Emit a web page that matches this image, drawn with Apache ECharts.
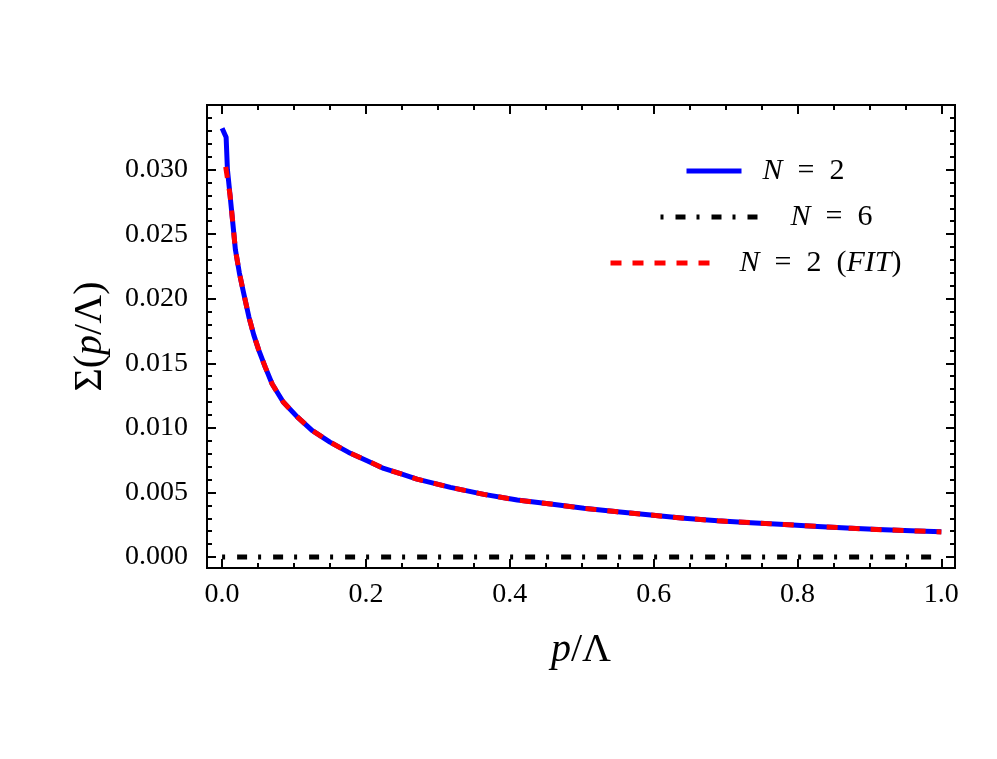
<!DOCTYPE html>
<html>
<head>
<meta charset="utf-8">
<script src="https://cdn.jsdelivr.net/npm/echarts@6/dist/echarts.min.js"></script>
<style>
html, body { margin: 0; padding: 0; background: #fff; }
#chart { width: 997px; height: 759px; }
</style>
</head>
<body>
<div id="chart"></div>
<script>
// N = 2 curve
var pN2 = [0, 0.0056, 0.0074, 0.0111, 0.0157, 0.0185, 0.024, 0.0297, 0.0372, 0.0440, 0.0511, 0.0600, 0.0696, 0.0850, 0.1045, 0.1250, 0.1500, 0.1760, 0.2000, 0.2247, 0.2500, 0.2710, 0.2950, 0.3175, 0.3640, 0.4104, 0.4568, 0.503, 0.5497, 0.596, 0.6425, 0.689, 0.735, 0.782, 0.828, 0.875, 0.921, 0.9675, 1.0];
var sN2 = [0.0332, 0.0325, 0.0300, 0.0280, 0.0254, 0.0238, 0.0220, 0.0205, 0.0186, 0.0172, 0.0160, 0.0147, 0.0134, 0.0120, 0.01085, 0.0098, 0.0089, 0.0081, 0.0075, 0.00686, 0.00641, 0.00603, 0.0057, 0.00539, 0.00485, 0.00441, 0.0041, 0.00377, 0.0035, 0.00325, 0.0030, 0.0028, 0.00266, 0.00251, 0.00237, 0.00222, 0.00211, 0.00201, 0.00196];

// N = 6 is flat zero
var pN6 = [0, 1];
var sN6 = [0, 0];

// fit, starts a bit later than the N = 2 data
var pFit = [0.005, 0.0111, 0.0157, 0.0185, 0.024, 0.0297, 0.0372, 0.0440, 0.0511, 0.0600, 0.0696, 0.0850, 0.1045, 0.1250, 0.1500, 0.1760, 0.2000, 0.2247, 0.2500, 0.2710, 0.2950, 0.3175, 0.3640, 0.4104, 0.4568, 0.503, 0.5497, 0.596, 0.6425, 0.689, 0.735, 0.782, 0.828, 0.875, 0.921, 0.9675, 1.0];
var sFit = [0.0302, 0.0280, 0.0254, 0.0238, 0.0220, 0.0205, 0.0186, 0.0172, 0.0160, 0.0147, 0.0134, 0.0120, 0.01085, 0.0098, 0.0089, 0.0081, 0.0075, 0.00686, 0.00641, 0.00603, 0.0057, 0.00539, 0.00485, 0.00441, 0.0041, 0.00377, 0.0035, 0.00325, 0.0030, 0.0028, 0.00266, 0.00251, 0.00237, 0.00222, 0.00211, 0.00201, 0.00194];

// tick labels
var xTicks = [0, 0.2, 0.4, 0.6, 0.8, 1.0];
var yTicks = [0, 0.005, 0.010, 0.015, 0.020, 0.025, 0.030];

var FONT = '"Liberation Serif", "DejaVu Serif", serif';

// minor ticks between the majors
var xMinor = [];
for (var i = 1; i <= 20; i++) {
    if (i % 4 != 0) xMinor.push(i * 0.05);
}
var yMinor = [];
for (var j = 1; j <= 34; j++) {
    if (j % 5 != 0) yMinor.push(j * 0.001);
}

function pairs(xs, ys) {
    var out = [];
    for (var k = 0; k < xs.length; k++) out.push([xs[k], ys[k]]);
    return out;
}

var XMIN = -0.021, XMAX = 1.019;
var YMIN = -0.00085, YMAX = 0.035;

function xAx(pos, ticks, len, labels) {
    return {
        type: 'value', position: pos, min: XMIN, max: XMAX,
        axisLine: {show: false, onZero: false},
        splitLine: {show: false},
        axisTick: {show: true, inside: true, length: len, customValues: ticks,
            lineStyle: {color: '#000', width: 2}},
        axisLabel: labels ? {
            show: true, customValues: xTicks, margin: 13,
            color: '#000', fontFamily: FONT, fontSize: 28,
            formatter: function (v) { return v.toFixed(1); }
        } : {show: false}
    };
}
function yAx(pos, ticks, len, labels) {
    return {
        type: 'value', position: pos, min: YMIN, max: YMAX,
        axisLine: {show: false, onZero: false},
        splitLine: {show: false},
        axisTick: {show: true, inside: true, length: len, customValues: ticks,
            lineStyle: {color: '#000', width: 2}},
        axisLabel: labels ? {
            show: true, customValues: yTicks, margin: 19,
            color: '#000', fontFamily: FONT, fontSize: 28,
            formatter: function (v) { return v.toFixed(3); }
        } : {show: false}
    };
}

var titleStyle = {color: '#000', fontFamily: FONT, fontSize: 40,
    rich: {i: {fontStyle: 'italic', fontFamily: FONT, fontSize: 40, color: '#000'}}};

var xAxes = [
    xAx('bottom', xTicks, 9, true),
    xAx('bottom', xMinor, 5, false),
    xAx('top', xTicks, 9, false),
    xAx('top', xMinor, 5, false)
];
xAxes[0].name = '{i|p}/Λ';
xAxes[0].nameLocation = 'middle';
xAxes[0].nameGap = 62;
xAxes[0].nameTextStyle = titleStyle;

var yAxes = [
    yAx('left', yTicks, 9, true),
    yAx('left', yMinor, 5, false),
    yAx('right', yTicks, 9, false),
    yAx('right', yMinor, 5, false)
];
yAxes[0].name = 'Σ({i|p}/Λ)';
yAxes[0].nameLocation = 'middle';
yAxes[0].nameGap = 97;
yAxes[0].nameTextStyle = titleStyle;

function legendAt(name, left, cy, w, gap, dash, label) {
    return {
        data: [name], left: left, top: cy - 15, padding: 0,
        itemWidth: w, itemHeight: 30,
        selectedMode: false,
        itemStyle: {opacity: 0},
        lineStyle: {width: 5, type: dash},
        formatter: function () { return label; },
        textStyle: {
            color: '#000', fontFamily: FONT, fontSize: 30, lineHeight: 30,
            rich: {
                s: {width: gap, fontSize: 30, lineHeight: 30},
                i: {fontStyle: 'italic', fontFamily: FONT, fontSize: 30, lineHeight: 30, color: '#000'}
            }
        }
    };
}

var dashN6 = [3, 12, 10, 11];
var dashFit = [11, 11];

var chart = echarts.init(document.getElementById('chart'), null, {renderer: 'canvas'});
var option = {
    backgroundColor: '#fff',
    animation: false,
    grid: {
        left: 207, right: 42, top: 105, bottom: 191,
        show: true, borderColor: '#000', borderWidth: 2,
        outerBoundsMode: 'none'
    },
    legend: [
        legendAt('N=2', 684, 171, 55, 16, 'solid', '{s| }{i|N}  =  2'),
        legendAt('N=6', 658, 217, 98, 27, dashN6, '{s| }{i|N}  =  6'),
        legendAt('N=2 (FIT)', 608, 263, 100, 24, dashFit, '{s| }{i|N}  =  2  ({i|FIT})')
    ],
    xAxis: xAxes,
    yAxis: yAxes,
    series: [
        {
            name: 'N=2', type: 'line', data: pairs(pN2, sN2),
            symbol: 'none',
            itemStyle: {color: '#0000ff'},
            lineStyle: {color: '#0000ff', width: 5, join: 'round'}
        },
        {
            name: 'N=6', type: 'line', data: pairs(pN6, sN6),
            symbol: 'none',
            itemStyle: {color: '#000'},
            lineStyle: {color: '#000', width: 5, type: dashN6}
        },
        {
            name: 'N=2 (FIT)', type: 'line', data: pairs(pFit, sFit),
            symbol: 'none',
            itemStyle: {color: '#ff0000'},
            lineStyle: {color: '#ff0000', width: 5, type: dashFit, join: 'round'}
        }
    ]
};
chart.setOption(option);
</script>
</body>
</html>
